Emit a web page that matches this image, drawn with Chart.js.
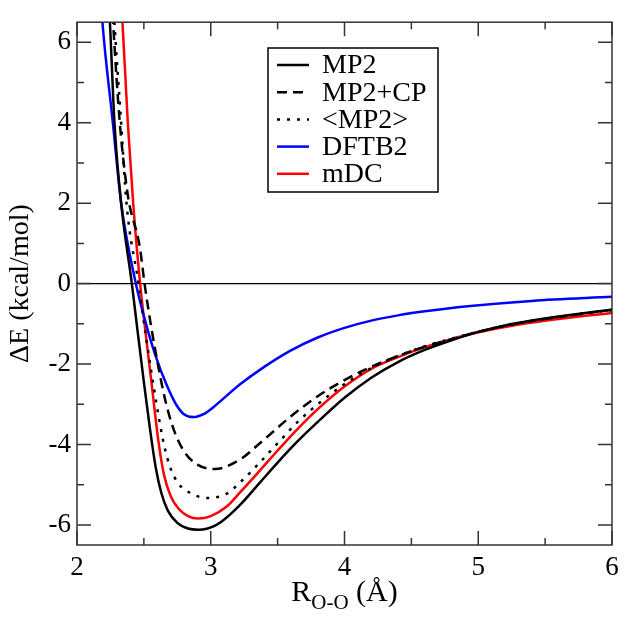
<!DOCTYPE html>
<html>
<head>
    <title>Water dimer O-O scan</title>
    <script src="https://cdn.jsdelivr.net/npm/chart.js"></script>
    <style>
        body { margin: 0; background: #fff; }
        #pes { display: block; }
    </style>
</head>
<body>
    <canvas id="pes" width="629" height="633"></canvas>

    <script>
        // R(O-O) in Angstrom, energies in kcal/mol
        var mp2X = [2.22, 2.246, 2.28, 2.33, 2.41, 2.45, 2.50, 2.545, 2.59, 2.63, 2.68, 2.75, 2.83, 2.905, 3.043, 3.217, 3.367, 3.5, 3.65, 3.8, 4.0, 4.2, 4.4, 4.6, 4.8, 5.0, 5.2, 5.4, 5.6, 5.8, 6.0];
        var mp2Y = [8.0, 6.5, 4.0, 2.0, 0, -1.1, -2.45, -3.6, -4.6, -5.2, -5.65, -5.95, -6.09, -6.12, -6.0, -5.51, -4.95, -4.45, -3.92, -3.44, -2.84, -2.34, -1.95, -1.65, -1.41, -1.2, -1.04, -0.92, -0.82, -0.73, -0.65];

        var cpX = [2.255, 2.27, 2.32, 2.38, 2.47, 2.505, 2.556, 2.61, 2.66, 2.72, 2.80, 2.90, 3.03, 3.217, 3.367, 3.6, 3.8, 4.0, 4.2, 4.4, 4.6, 4.8, 5.0, 5.2, 5.4, 5.6, 5.8, 6.0];
        var cpY = [7.5, 6.5, 4.0, 2.2, 0.9, 0, -1.1, -2.1, -2.9, -3.6, -4.17, -4.5, -4.61, -4.38, -3.97, -3.3, -2.8, -2.4, -2.07, -1.8, -1.57, -1.38, -1.2, -1.05, -0.93, -0.83, -0.74, -0.65];

        var avgX = [2.265, 2.28, 2.33, 2.37, 2.46, 2.506, 2.556, 2.60, 2.65, 2.70, 2.76, 2.843, 2.968, 3.117, 3.217, 3.367, 3.5, 3.65, 3.8, 4.0, 4.2, 4.4, 4.6, 4.8, 5.0, 5.2, 5.4, 5.6, 5.8, 6.0];
        var avgY = [7.5, 6.5, 4.0, 2.0, 0, -1.1, -2.2, -3.1, -4.0, -4.6, -4.98, -5.2, -5.33, -5.23, -4.95, -4.45, -3.97, -3.44, -3.0, -2.5, -2.1, -1.8, -1.56, -1.37, -1.2, -1.05, -0.93, -0.83, -0.74, -0.66];

        var dftbX = [2.17, 2.19, 2.268, 2.33, 2.44, 2.52, 2.594, 2.669, 2.74, 2.80, 2.868, 2.95, 3.017, 3.217, 3.4, 3.6, 3.8, 4.0, 4.2, 4.4, 4.6, 4.9, 5.4, 6.0];
        var dftbY = [7.5, 6.5, 4.0, 2.0, 0, -1.05, -1.86, -2.51, -3.0, -3.25, -3.32, -3.24, -3.08, -2.51, -2.07, -1.66, -1.34, -1.1, -0.92, -0.79, -0.69, -0.57, -0.43, -0.33];

        var mdcX = [2.325, 2.34, 2.38, 2.42, 2.472, 2.505, 2.56, 2.61, 2.65, 2.70, 2.76, 2.83, 2.905, 3.0, 3.117, 3.217, 3.367, 3.5, 3.65, 3.8, 4.0, 4.2, 4.4, 4.6, 4.8, 5.0, 5.2, 5.4, 5.6, 5.8, 6.0];
        var mdcY = [7.5, 6.5, 4.0, 2.0, 0, -1.0, -2.55, -3.95, -4.75, -5.28, -5.6, -5.78, -5.84, -5.78, -5.55, -5.2, -4.65, -4.15, -3.61, -3.12, -2.56, -2.12, -1.83, -1.58, -1.38, -1.21, -1.08, -0.97, -0.88, -0.80, -0.73];

        // axis ticks
        var xMajor = [2, 3, 4, 5, 6];
        var xMinor = [2.5, 3.5, 4.5, 5.5];
        var yMajor = [-6, -4, -2, 0, 2, 4, 6];
        var yMinor = [-5, -3, -1, 1, 3, 5];

        var serif = 'Liberation Serif';

        function pts(xs, ys) {
            return xs.map(function(x, i) { return { x: x, y: ys[i] }; });
        }

        function series(label, xs, ys, color, dash) {
            return {
                label: label,
                data: pts(xs, ys),
                borderColor: color,
                borderWidth: 2.5,
                borderDash: dash,
                pointRadius: 0,
                fill: false,
                cubicInterpolationMode: 'monotone',
                clip: 0
            };
        }

        // box with inward ticks on all four sides, x title, legend
        var framePlugin = {
            id: 'frame',
            afterDatasetsDraw: function(chart) {
                var c = chart.ctx, a = chart.chartArea;
                var xs = chart.scales.x, ys = chart.scales.y;
                c.save();
                c.strokeStyle = '#333';
                c.lineWidth = 1.5;
                c.strokeRect(a.left, a.top, a.right - a.left, a.bottom - a.top);
                c.beginPath();
                function xt(v, len) {
                    var p = xs.getPixelForValue(v);
                    c.moveTo(p, a.bottom); c.lineTo(p, a.bottom - len);
                    c.moveTo(p, a.top); c.lineTo(p, a.top + len);
                }
                function yt(v, len) {
                    var p = ys.getPixelForValue(v);
                    c.moveTo(a.left, p); c.lineTo(a.left + len, p);
                    c.moveTo(a.right, p); c.lineTo(a.right - len, p);
                }
                xMajor.forEach(function(v) { xt(v, 14); });
                xMinor.forEach(function(v) { xt(v, 7); });
                yMajor.forEach(function(v) { yt(v, 14); });
                yMinor.forEach(function(v) { yt(v, 7); });
                c.stroke();
                c.restore();
            },
            afterDraw: function(chart) {
                var c = chart.ctx, a = chart.chartArea;
                c.save();
                var big = '30px "' + serif + '"', small = '21px "' + serif + '"';
                c.fillStyle = '#000';
                c.textBaseline = 'alphabetic';
                c.font = big;
                var w1 = c.measureText('R').width;
                var w3 = c.measureText(' (\u00C5)').width;
                c.font = small;
                var w2 = c.measureText('O-O').width;
                var x0 = (a.left + a.right) / 2 - (w1 + w2 + w3) / 2;
                var base = 601;
                c.font = big;
                c.fillText('R', x0, base);
                c.font = small;
                c.fillText('O-O', x0 + w1, base + 8);
                c.font = big;
                c.fillText(' (\u00C5)', x0 + w1 + w2, base);

                var bx = 268, by = 48, bw = 170, bh = 144;
                c.fillStyle = '#fff';
                c.fillRect(bx, by, bw, bh);
                c.strokeStyle = '#000';
                c.lineWidth = 1.5;
                c.strokeRect(bx, by, bw, bh);
                c.font = '28px "' + serif + '"';
                c.textBaseline = 'middle';
                chart.data.datasets.forEach(function(ds, i) {
                    var yy = by + 17 + i * 27.2;
                    c.beginPath();
                    c.setLineDash(ds.borderDash || []);
                    c.strokeStyle = ds.borderColor;
                    c.lineWidth = 2.5;
                    c.moveTo(bx + 9, yy);
                    c.lineTo(bx + 41, yy);
                    c.stroke();
                    c.setLineDash([]);
                    c.fillStyle = '#000';
                    c.fillText(ds.label, bx + 54, yy + 1);
                });
                c.restore();
            }
        };

        var ctx = document.getElementById('pes').getContext('2d');
        var pesChart = new Chart(ctx, {
            type: 'line',
            data: {
                datasets: [
                    series('MP2', mp2X, mp2Y, '#000000', []),
                    series('MP2+CP', cpX, cpY, '#000000', [10, 6]),
                    series('<MP2>', avgX, avgY, '#000000', [3, 7]),
                    series('DFTB2', dftbX, dftbY, '#0000ff', []),
                    series('mDC', mdcX, mdcY, '#ff0000', [])
                ]
            },
            options: {
                responsive: false,
                animation: false,
                devicePixelRatio: 1,
                layout: { padding: { top: 9, right: 17, left: 0, bottom: 0 } },
                plugins: {
                    legend: { display: false },
                    tooltip: { enabled: false }
                },
                scales: {
                    x: {
                        type: 'linear',
                        min: 2,
                        max: 6,
                        afterBuildTicks: function(s) { s.ticks = xMajor.map(function(v) { return { value: v }; }); },
                        afterFit: function(s) { s.height = 88; },
                        grid: { display: false, drawTicks: false },
                        border: { display: false },
                        ticks: {
                            color: '#000',
                            padding: 7,
                            maxRotation: 0,
                            autoSkip: false,
                            font: { family: serif, size: 27 }
                        }
                    },
                    y: {
                        type: 'linear',
                        min: -6.5,
                        max: 6.5,
                        afterBuildTicks: function(s) { s.ticks = yMajor.map(function(v) { return { value: v }; }); },
                        afterFit: function(s) { s.width = 77; },
                        grid: {
                            drawTicks: false,
                            lineWidth: 1.2,
                            color: function(c) { return c.tick && c.tick.value === 0 ? '#000' : 'rgba(0,0,0,0)'; }
                        },
                        border: { display: false },
                        title: {
                            display: true,
                            text: '\u0394E (kcal/mol)',
                            color: '#000',
                            padding: { top: 4, bottom: 0 },
                            font: { family: serif, size: 28 }
                        },
                        ticks: {
                            color: '#000',
                            padding: 6,
                            autoSkip: false,
                            font: { family: serif, size: 27 }
                        }
                    }
                }
            },
            plugins: [framePlugin]
        });
    </script>
</body>
</html>
